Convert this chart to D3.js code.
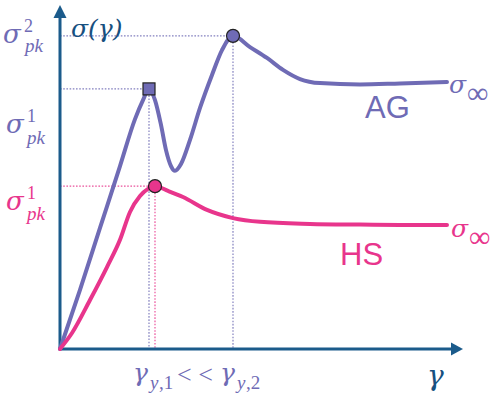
<!DOCTYPE html>
<html>
<head>
<meta charset="utf-8">
<script src="https://cdn.jsdelivr.net/npm/d3@7"></script>
<style>
  html, body { margin: 0; padding: 0; background: #ffffff; }
  svg { display: block; }
</style>
</head>
<body>
<svg id="chart" width="498" height="405"></svg>
<script>
// strain / stress samples (arbitrary units, 0..100)
var gammaAG = [0, 5, 10, 15, 18.75, 20.75, 22.25, 23.75, 25.25, 26.5, 27.75, 28.75, 30.25, 32.5, 35, 38, 40.5, 43.25, 47.5, 51.75, 55.75, 60, 65, 75, 85, 96.75];
var sigmaAG = [0, 17.4, 35.6, 53.8, 67.6, 73.2, 76.5, 73.2, 65.9, 58.5, 53.8, 52.4, 54.4, 61.5, 70.9, 80.6, 87.9, 92.1, 88.8, 85.6, 82.1, 79.4, 78.2, 77.8, 78.1, 78.5];

var gammaHS = [0, 3, 7.5, 11.75, 15, 17.5, 20, 22, 23.75, 27, 30.75, 36.75, 43.25, 50, 62.5, 75, 85, 96.75];
var sigmaHS = [0, 4.7, 14.4, 24.1, 32.1, 40.3, 45, 47.1, 47.9, 46.5, 44.7, 40.9, 38.5, 37.4, 36.8, 36.6, 36.5, 36.5];

// peaks: [gamma, sigma]
var peakAG1 = [22.25, 76.5];
var peakAG2 = [43.25, 92.1];
var peakHS = [23.75, 47.9];

var purple = "#6f6bb5",
    magenta = "#e8358c",
    navy = "#1b5b8b",
    navyText = "#17507f";

var svg = d3.select("#chart");

var x = d3.scaleLinear().domain([0, 100]).range([60, 460]);
var y = d3.scaleLinear().domain([0, 100]).range([349, 9]);

var line = d3.line()
    .x(function(d) { return x(d[0]); })
    .y(function(d) { return y(d[1]); })
    .curve(d3.curveMonotoneX);

var ag = gammaAG.map(function(g, i) { return [g, sigmaAG[i]]; });
var hs = gammaHS.map(function(g, i) { return [g, sigmaHS[i]]; });

// dotted guides
function guide(p, color) {
    svg.append("line")
        .attr("x1", x(0)).attr("y1", y(p[1]))
        .attr("x2", x(p[0])).attr("y2", y(p[1]))
        .attr("stroke", color).attr("stroke-width", 1.2)
        .attr("stroke-dasharray", "1.6,1.6").attr("opacity", 0.85);
    svg.append("line")
        .attr("x1", x(p[0])).attr("y1", y(p[1]))
        .attr("x2", x(p[0])).attr("y2", y(0))
        .attr("stroke", color).attr("stroke-width", 1.2)
        .attr("stroke-dasharray", "1.6,1.6").attr("opacity", 0.85);
}
guide(peakAG1, purple);
guide(peakAG2, purple);
guide(peakHS, magenta);

// axes
svg.append("line")
    .attr("x1", x(0)).attr("y1", y(0))
    .attr("x2", x(0)).attr("y2", 15)
    .attr("stroke", navy).attr("stroke-width", 3);
svg.append("path")
    .attr("d", "M" + x(0) + ",5 L" + (x(0) - 6.5) + ",18 L" + (x(0) + 6.5) + ",18 Z")
    .attr("fill", navy);
svg.append("line")
    .attr("x1", x(0) - 1.5).attr("y1", y(0))
    .attr("x2", 454).attr("y2", y(0))
    .attr("stroke", navy).attr("stroke-width", 3);
svg.append("path")
    .attr("d", "M463," + y(0) + " L451," + (y(0) - 6.5) + " L451," + (y(0) + 6.5) + " Z")
    .attr("fill", navy);

// curves
svg.append("path")
    .attr("d", line(ag))
    .attr("fill", "none").attr("stroke", purple)
    .attr("stroke-width", 4).attr("stroke-linejoin", "round").attr("stroke-linecap", "round");
svg.append("path")
    .attr("d", line(hs))
    .attr("fill", "none").attr("stroke", magenta)
    .attr("stroke-width", 4).attr("stroke-linejoin", "round").attr("stroke-linecap", "round");

// markers
svg.append("rect")
    .attr("x", x(peakAG1[0]) - 6).attr("y", y(peakAG1[1]) - 6)
    .attr("width", 12).attr("height", 12)
    .attr("fill", purple).attr("stroke", "#222").attr("stroke-width", 1.2);
svg.append("circle")
    .attr("cx", x(peakAG2[0])).attr("cy", y(peakAG2[1])).attr("r", 6.5)
    .attr("fill", purple).attr("stroke", "#222").attr("stroke-width", 1.2);
svg.append("circle")
    .attr("cx", x(peakHS[0])).attr("cy", y(peakHS[1])).attr("r", 6.5)
    .attr("fill", magenta).attr("stroke", "#222").attr("stroke-width", 1.2);

// math labels: parts are [text, x, y, size, kind]
// kind: "g" greek italic, "i" latin italic, "r" upright
var fonts = {
    g: "'DejaVu Serif', serif",
    i: "'Liberation Serif', 'Times New Roman', serif",
    r: "'Liberation Serif', 'Times New Roman', serif"
};
function label(parts, color) {
    var t = svg.append("text").attr("fill", color);
    parts.forEach(function(p) {
        t.append("tspan")
            .attr("x", p[1]).attr("y", p[2])
            .attr("font-size", p[3] + "px")
            .attr("font-family", fonts[p[4]])
            .attr("font-style", p[4] == "r" ? "normal" : "italic")
            .text(p[0]);
    });
}

label([["σ(γ)", 71, 37, 25, "g"]], navyText);
label([["γ", 427, 385, 28, "g"]], navyText);

label([["σ", 3, 43, 26, "g"], ["2", 24, 32, 18, "r"], ["pk", 25, 52, 19, "i"]], purple);
label([["σ", 6, 133, 26, "g"], ["1", 27, 122, 18, "r"], ["pk", 27, 144, 19, "i"]], purple);
label([["σ", 6, 210, 26, "g"], ["1", 27, 199, 18, "r"], ["pk", 27, 220, 19, "i"]], magenta);

label([["γ", 133, 381, 25, "g"], ["y", 150, 389, 19, "i"], [",1", 159, 389, 19, "r"],
       ["< <", 177, 383, 26, "r"],
       ["γ", 220, 381, 25, "g"], ["y", 237, 389, 19, "i"], [",2", 246, 389, 19, "r"]], purple);

label([["σ", 449, 93, 25, "g"], ["∞", 467, 103, 30, "r"]], purple);
label([["σ", 451, 237, 25, "g"], ["∞", 469, 247, 30, "r"]], magenta);

svg.append("text")
    .attr("x", 365).attr("y", 118)
    .attr("font-family", "'Liberation Sans', Arial, sans-serif")
    .attr("font-size", "31px").attr("fill", purple)
    .text("AG");
svg.append("text")
    .attr("x", 340).attr("y", 265)
    .attr("font-family", "'Liberation Sans', Arial, sans-serif")
    .attr("font-size", "31px").attr("fill", magenta)
    .text("HS");
</script>
</body>
</html>
